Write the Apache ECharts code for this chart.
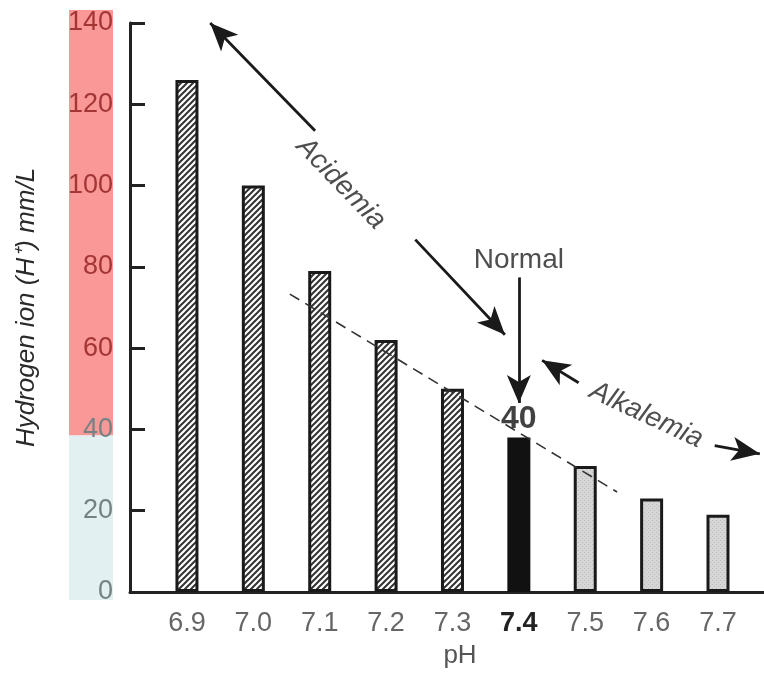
<!DOCTYPE html>
<html>
<head>
<meta charset="utf-8">
<script src="https://cdn.jsdelivr.net/npm/echarts@6/dist/echarts.min.js"></script>
<style>
html,body{margin:0;padding:0;background:#fff;}
#chart{width:764px;height:674px;}
</style>
</head>
<body>
<div id="chart"></div>
<script>
// ---- data ----
var categories = ['6.9','7.0','7.1','7.2','7.3','7.4','7.5','7.6','7.7'];
var hValues = [126, 100, 79, 62, 50, 38, 31, 23, 19];
var barKinds = ['acid','acid','acid','acid','acid','normal','alk','alk','alk'];
var yTicks = [0, 20, 40, 60, 80, 100, 120, 140];
var normalThreshold = 40;
var normalLabel = '40';
// annotation anchors in data space [pH, H+]
var dashedTrend = [[7.055, 73.3], [7.548, 24.6]];
var acidArrow = [[6.935, 140.0], [7.093, 113.5], [7.244, 86.7], [7.379, 63.3]];
var alkArrow = [[7.435, 57.0], [7.490, 51.5], [7.695, 36.0], [7.763, 34.0]];
var normalArrow = [[7.4, 77.4], [7.4, 46.5]];
var textNotes = [
  {name: 'Acidemia', pos: [7.132, 100.5], rotate: -46},
  {name: 'Alkalemia', pos: [7.592, 43.5], rotate: -25},
  {name: 'Normal', pos: [7.4, 81.6], rotate: 0}
];
var boldNote = {name: normalLabel, pos: [7.4, 42.6]};

// ---- patterns ----
function hatch(bg, fg, size, lw) {
  var c = document.createElement('canvas');
  c.width = size; c.height = size;
  var g = c.getContext('2d');
  g.fillStyle = bg; g.fillRect(0, 0, size, size);
  g.strokeStyle = fg; g.lineWidth = lw;
  g.beginPath();
  g.moveTo(0, size); g.lineTo(size, 0);
  g.moveTo(-1, 1); g.lineTo(1, -1);
  g.moveTo(size - 1, size + 1); g.lineTo(size + 1, size - 1);
  g.stroke();
  return c;
}
function greyTex() {
  var c = document.createElement('canvas');
  c.width = 4; c.height = 4;
  var g = c.getContext('2d');
  g.fillStyle = '#d6d6d6'; g.fillRect(0, 0, 4, 4);
  g.fillStyle = '#bdbdbd'; g.fillRect(0, 0, 1, 1); g.fillRect(2, 2, 1, 1);
  return c;
}
var acidPat = {image: hatch('#ffffff', '#333333', 6, 2), repeat: 'repeat'};
var alkPat = {image: greyTex(), repeat: 'repeat'};

function styleFor(kind) {
  if (kind === 'normal') return {color: '#111', borderColor: '#111', borderWidth: 3};
  if (kind === 'alk') return {color: alkPat, borderColor: '#1a1a1a', borderWidth: 3};
  return {color: acidPat, borderColor: '#1a1a1a', borderWidth: 3};
}

var xVals = categories.map(function (c) { return parseFloat(c); });
var barData = categories.map(function (c, i) {
  return {value: [xVals[i], hValues[i]], itemStyle: styleFor(barKinds[i])};
});

var FONT = '"Liberation Sans", Arial, sans-serif';
var HEAD = [18, 28];

var chart = echarts.init(document.getElementById('chart'), null, {renderer: 'canvas'});

function seg(a, b) {
  return [{coord: a, symbol: 'none'}, {coord: b, symbol: 'arrow', symbolSize: HEAD}];
}

var option = {
  backgroundColor: '#ffffff',
  animation: false,
  grid: [
    {left: 130, right: 0, top: 23, bottom: 76, containLabel: false},
    {left: 69, width: 44, top: 10, bottom: 74, containLabel: false}
  ],
  xAxis: [
    {
      type: 'value', gridIndex: 0,
      min: 6.8142, max: 7.7693,
      axisLine: {show: true, lineStyle: {color: '#222', width: 3}},
      axisTick: {show: false},
      splitLine: {show: false},
      axisLabel: {
        customValues: xVals,
        margin: 18,
        fontSize: 27, color: '#666', fontFamily: FONT,
        formatter: function (v) {
          var s = v.toFixed(1);
          return s === '7.4' ? '{b|' + s + '}' : s;
        },
        rich: {b: {fontSize: 27, fontWeight: 'bold', color: '#222', fontFamily: FONT}}
      },
      name: 'pH', nameLocation: 'middle', nameGap: 51,
      nameTextStyle: {fontSize: 26, color: '#555', fontFamily: FONT, padding: [0, 0, 0, 26]}
    },
    {
      type: 'category', gridIndex: 1, data: ['band'], show: false
    }
  ],
  yAxis: [
    {
      type: 'value', gridIndex: 0, min: 0, max: 140, interval: 20,
      z: 10,
      axisLine: {show: true, lineStyle: {color: '#222', width: 3}},
      axisTick: {show: true, inside: true, length: 15, lineStyle: {color: '#222', width: 3}},
      splitLine: {show: false},
      axisLabel: {
        margin: 17, fontSize: 27, fontFamily: FONT,
        formatter: function (v) { return v >= 60 ? '{r|' + v + '}' : '{g|' + v + '}'; },
        rich: {
          r: {fontSize: 27, color: '#a33535', fontFamily: FONT},
          g: {fontSize: 27, color: '#748284', fontFamily: FONT}
        }
      },
      name: 'Hydrogen ion (H⁺) mm/L', nameLocation: 'middle', nameGap: 90,
      nameTextStyle: {fontSize: 26, fontStyle: 'italic', color: '#2a2a2a', fontFamily: FONT}
    },
    {
      type: 'value', gridIndex: 1, min: 0, max: 143.2, show: false
    }
  ],
  series: [
    {
      type: 'bar', xAxisIndex: 1, yAxisIndex: 1, stack: 'band', z: 0,
      barWidth: '100%', silent: true,
      itemStyle: {color: '#e2f0f1'},
      data: [normalThreshold]
    },
    {
      type: 'bar', xAxisIndex: 1, yAxisIndex: 1, stack: 'band', z: 0,
      barWidth: '100%', silent: true,
      itemStyle: {color: '#fa9898'},
      data: [143.2 - normalThreshold]
    },
    {
      type: 'bar', xAxisIndex: 0, yAxisIndex: 0,
      barWidth: 23,
      data: barData,
      markLine: {
        silent: true,
        symbol: ['none', 'arrow'],
        symbolSize: HEAD,
        label: {show: false},
        lineStyle: {color: '#1a1a1a', width: 2.8, type: 'solid'},
        data: [
          [{coord: dashedTrend[0], symbol: 'none', lineStyle: {type: [11, 7], width: 1.6, color: '#333'}},
           {coord: dashedTrend[1], symbol: 'none'}],
          seg(acidArrow[1], acidArrow[0]),
          seg(acidArrow[2], acidArrow[3]),
          seg(alkArrow[1], alkArrow[0]),
          seg(alkArrow[2], alkArrow[3]),
          seg(normalArrow[0], normalArrow[1])
        ]
      }
    },
    {
      type: 'scatter', xAxisIndex: 0, yAxisIndex: 0,
      symbolSize: 0, silent: true,
      data: textNotes.map(function (t) {
        return {
          value: t.pos, name: t.name,
          label: {
            show: true, position: 'inside', formatter: t.name, rotate: t.rotate,
            fontSize: 28, fontStyle: t.rotate ? 'italic' : 'normal',
            color: '#222', fontFamily: FONT
          }
        };
      }).concat([{
        value: boldNote.pos, name: boldNote.name,
        label: {show: true, position: 'inside', formatter: boldNote.name,
          fontSize: 32, fontWeight: 'bold', color: '#111', fontFamily: FONT}
      }])
    }
  ]
};
chart.setOption(option);
</script>
</body>
</html>
